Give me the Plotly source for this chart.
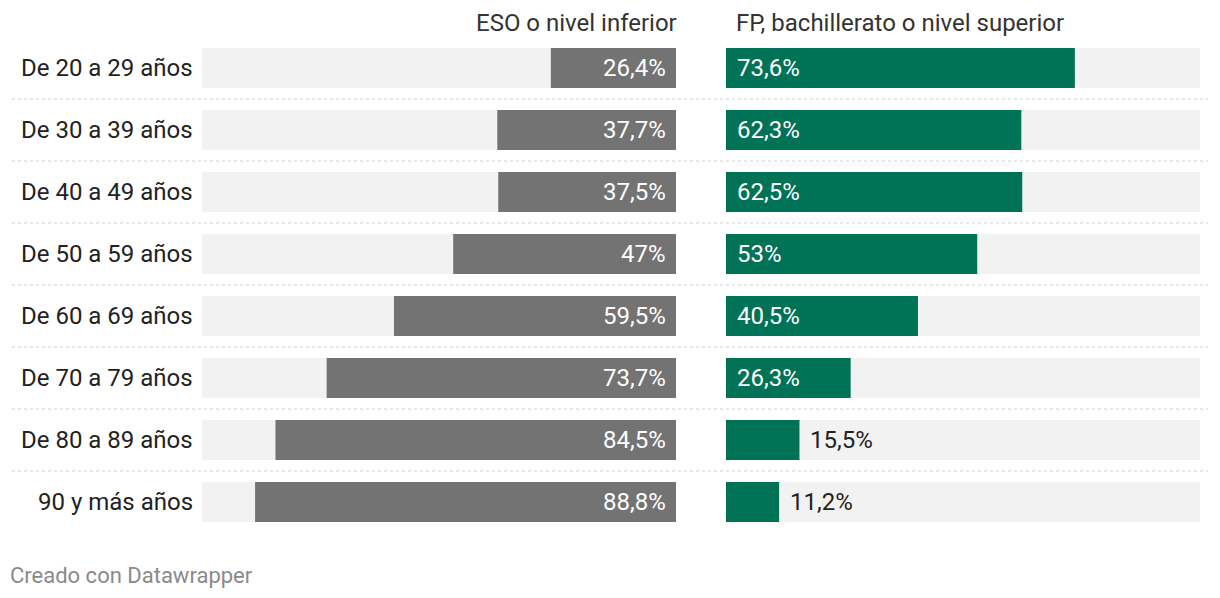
import plotly.graph_objects as go

categories = ["De 20 a 29 años", "De 30 a 39 años", "De 40 a 49 años", "De 50 a 59 años",
              "De 60 a 69 años", "De 70 a 79 años", "De 80 a 89 años", "90 y más años"]
eso = [26.4, 37.7, 37.5, 47, 59.5, 73.7, 84.5, 88.8]
fp = [73.6, 62.3, 62.5, 53, 40.5, 26.3, 15.5, 11.2]
header_left = "ESO o nivel inferior"
header_right = "FP, bachillerato o nivel superior"
footer = "Creado con Datawrapper"

W, H = 1220, 598
GRAY = "#737373"
GREEN = "#007256"
BG = "#f2f2f2"
FONT = "Roboto, Arial, sans-serif"
FS = 24

def fmt(v):
    s = ("%.1f" % v).rstrip("0").rstrip(".")
    return s.replace(".", ",") + "%"

n = len(categories)
idx = list(range(n))
bar_w = 40 / 62

fig = go.Figure()
for xa, ya in (("x", "y"), ("x2", "y2")):
    fig.add_trace(go.Bar(x=[100] * n, y=idx, orientation="h", width=bar_w,
                         marker=dict(color=BG, line=dict(width=0)), xaxis=xa, yaxis=ya,
                         hoverinfo="skip", showlegend=False))
fig.add_trace(go.Bar(x=eso, y=idx, orientation="h", width=bar_w,
                     marker=dict(color=GRAY, line=dict(width=0)), xaxis="x", yaxis="y",
                     showlegend=False))
fig.add_trace(go.Bar(x=fp, y=idx, orientation="h", width=bar_w,
                     marker=dict(color=GREEN, line=dict(width=0)), xaxis="x2", yaxis="y2",
                     showlegend=False))

ann = []
for i, (c, a, b) in enumerate(zip(categories, eso, fp)):
    ann.append(dict(x=195 / W, xref="paper", y=i, yref="y", text=c, showarrow=False,
                    xanchor="right", yanchor="middle", font=dict(size=FS, color="#222", family=FONT)))
    ann.append(dict(x=0, xref="x", y=i, yref="y", text=fmt(a), showarrow=False,
                    xanchor="right", yanchor="middle", xshift=-8,
                    font=dict(size=FS, color="white", family=FONT)))
    inside = b > 20
    ann.append(dict(x=0 if inside else b, xref="x2", y=i, yref="y2", text=fmt(b), showarrow=False,
                    xanchor="left", yanchor="middle", xshift=9,
                    font=dict(size=FS, color="white" if inside else "#222", family=FONT)))

ann.append(dict(x=679 / W, xref="paper", y=1 - 23 / H, yref="paper", text=header_left,
                showarrow=False, xanchor="right", yanchor="middle",
                font=dict(size=FS, color="#333", family=FONT)))
ann.append(dict(x=734 / W, xref="paper", y=1 - 23 / H, yref="paper", text=header_right,
                showarrow=False, xanchor="left", yanchor="middle",
                font=dict(size=FS, color="#333", family=FONT)))
ann.append(dict(x=8 / W, xref="paper", y=1 - 575 / H, yref="paper", text=footer,
                showarrow=False, xanchor="left", yanchor="middle",
                font=dict(size=22, color="#8a8a8a", family=FONT)))

shapes = []
for i in range(n - 1):
    shapes.append(dict(type="line", xref="paper", yref="y", x0=12 / W, x1=1208 / W,
                       y0=i + 0.5, y1=i + 0.5, line=dict(color="#d0d0d0", width=1.2, dash="dot")))

ydom = [(H - 533) / H, (H - 37) / H]
fig.update_layout(
    width=W, height=H, margin=dict(l=0, r=0, t=0, b=0),
    paper_bgcolor="white", plot_bgcolor="white", barmode="overlay",
    font=dict(family=FONT),
    xaxis=dict(domain=[202 / W, 676 / W], range=[100, 0], visible=False, fixedrange=True),
    xaxis2=dict(domain=[726 / W, 1200 / W], range=[0, 100], visible=False, fixedrange=True),
    yaxis=dict(domain=ydom, range=[n - 0.5, -0.5], visible=False, anchor="x"),
    yaxis2=dict(domain=ydom, range=[n - 0.5, -0.5], visible=False, anchor="x2"),
    annotations=ann, shapes=shapes,
)
fig.write_html("out.html")
